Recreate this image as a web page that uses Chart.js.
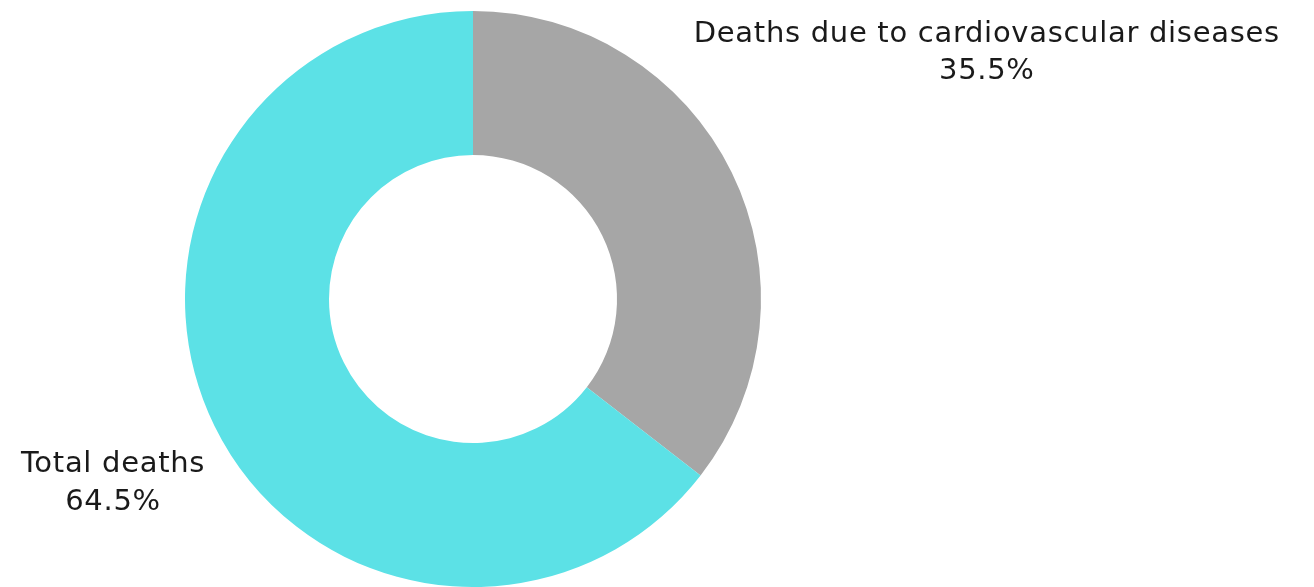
<!DOCTYPE html>
<html>
<head>
<meta charset="utf-8">
<script src="https://cdn.jsdelivr.net/npm/chart.js@4"></script>
<style>
  html, body { margin: 0; padding: 0; background: #fff; }
  #wrap { width: 1314px; height: 587px; position: relative; }
</style>
</head>
<body>
<div id="wrap"><canvas id="myChart"></canvas></div>
<script>
const labels = ['Deaths due to cardiovascular diseases', 'Total deaths'];
const values = [35.5, 64.5];
const colors = ['#a6a6a6', '#5ce1e6'];

// baseline of the first label line, in units of the outer radius from the centre
const labelSpots = [[1.784, -0.893], [-1.250, 0.602]];

const sliceLabels = {
  id: 'sliceLabels',
  afterDatasetsDraw(chart) {
    const ctx = chart.ctx;
    const meta = chart.getDatasetMeta(0);
    ctx.save();
    ctx.font = '29px "DejaVu Sans", sans-serif';
    ctx.letterSpacing = '0.7px';
    ctx.fillStyle = '#1a1a1a';
    ctx.textAlign = 'center';
    ctx.textBaseline = 'alphabetic';
    meta.data.forEach((arc, i) => {
      const r = arc.outerRadius;
      const x = arc.x + labelSpots[i][0] * r;
      const y = arc.y + labelSpots[i][1] * r;
      ctx.fillText(labels[i], x, y);
      ctx.fillText(values[i].toFixed(1) + '%', x, y + 37.5);
    });
    ctx.restore();
  }
};

const ctx = document.getElementById('myChart');

new Chart(ctx, {
  type: 'doughnut',
  data: {
    labels: labels,
    datasets: [{
      data: values,
      backgroundColor: colors,
      borderWidth: 0
    }]
  },
  options: {
    responsive: true,
    maintainAspectRatio: false,
    animation: false,
    cutout: '50%',
    layout: { padding: { top: 11, bottom: 0, left: 185, right: 553 } },
    plugins: {
      legend: { display: false },
      tooltip: { enabled: false }
    }
  },
  plugins: [sliceLabels]
});
</script>
</body>
</html>
